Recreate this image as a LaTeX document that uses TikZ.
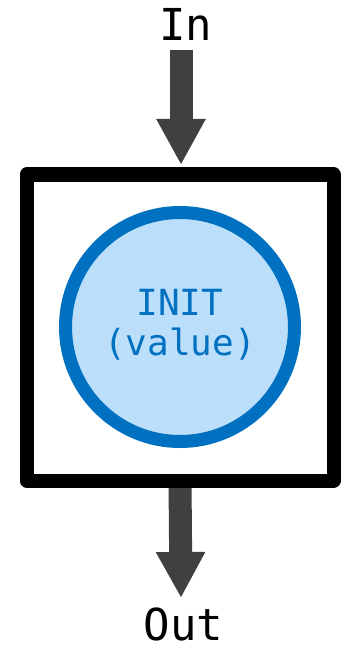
\documentclass[tikz,border=0pt]{standalone}
\usepackage{fontspec}
\newfontfamily\monofont{DejaVu Sans Mono}
\usetikzlibrary{arrows.meta}
\definecolor{arrowgray}{HTML}{404040}
\definecolor{ringblue}{HTML}{0070C0}
\definecolor{discblue}{HTML}{BBDEFB}

\begin{document}
\begin{tikzpicture}[x=1pt,y=-1pt,
  flow/.style={draw=arrowgray, line width=23pt,
    -{Triangle[width=46pt 0 0,length=46pt 0 0]}},
  frame/.style={draw=black, line width=14pt, line join=round,
    minimum width=307pt, minimum height=306pt, inner sep=0pt},
  state/.style={circle, draw=ringblue, fill=discblue, line width=13pt,
    minimum size=229pt, inner sep=0pt},
  port/.style={font=\monofont\fontsize{44}{50}\selectfont, text=black,
    anchor=base, inner sep=0pt, text depth=0pt},
  statetext/.style={font=\monofont\fontsize{36}{42}\selectfont,
    text=ringblue, anchor=base, inner sep=0pt}]
  % canvas
  \useasboundingbox (0,0) rectangle (341,647);

  % labels of the two ports
  \node[port] (in) at (185.7,40.5) {In};
  \node[port] (out) at (183.3,640.5) {Out};

  % block and its initial state
  \coordinate (intop) at (181,50);
  \coordinate (outtip) at (181,598);
  \coordinate (boxc) at (180,327.5);
  \draw[flow] (boxc |- 0,480) -- (outtip);
  \node[frame] (box) at (boxc) {};
  \node[state] (init) at (180,327) {};
  \node[statetext] (initname) at (180,315) {INIT};
  \node[statetext] (initarg) at (180,355) {(value)};

  % incoming flow
  \draw[flow, shorten >=2.5pt] (intop) -- (box.north -| intop);
\end{tikzpicture}
\end{document}
